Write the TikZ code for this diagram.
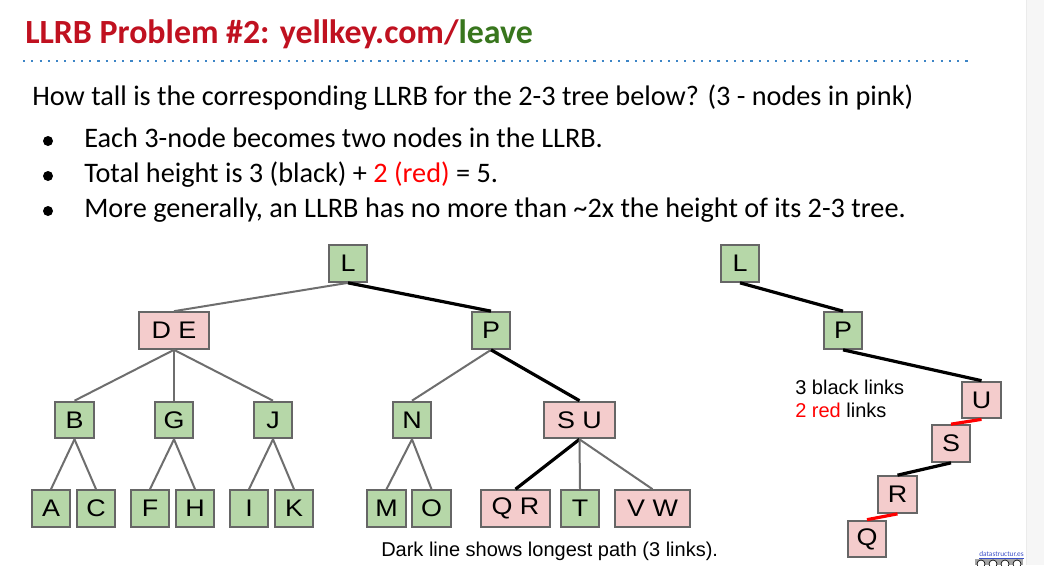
\documentclass[tikz,border=0pt]{standalone}
\usepackage{fontspec}
\setmainfont{Carlito}
\newfontfamily\arialf{Liberation Sans}
\newfontfamily\nodefont{Liberation Sans}[FakeStretch=1.12]
\definecolor{titlered}{RGB}{192,17,32}
\definecolor{titlegreen}{RGB}{56,118,29}
\definecolor{dotblue}{RGB}{61,133,198}
\definecolor{nodegreen}{RGB}{182,215,168}
\definecolor{nodepink}{RGB}{244,204,204}
\definecolor{nodeborder}{RGB}{102,102,102}
\definecolor{edgegray}{RGB}{110,110,110}
\definecolor{linkred}{RGB}{255,0,0}
\definecolor{sidegray}{RGB}{246,246,246}
\definecolor{linkblue}{RGB}{60,80,200}
\begin{document}
\begin{tikzpicture}[x=0.75pt,y=-0.75pt,
  treebox/.style={draw=nodeborder, line width=1.5pt, inner sep=0pt,
    minimum height=27.5pt, font=\nodefont\fontsize{18}{20}\selectfont},
  gnode/.style={treebox, fill=nodegreen, minimum width=29pt},
  pnode/.style={treebox, fill=nodepink, minimum width=29pt},
  pwide/.style={treebox, fill=nodepink, minimum width=52.5pt},
  thin/.style={draw=edgegray, line width=1.5pt},
  thick/.style={draw=black, line width=2.4pt},
  redlink/.style={draw=linkred, line width=2.4pt},
  bodytext/.style={anchor=base west, inner sep=0pt, font=\fontsize{21.2}{25}\selectfont},
  smalltext/.style={anchor=base west, inner sep=0pt, font=\arialf\fontsize{15}{17}\selectfont},
  bulletdot/.style={circle, fill=black, inner sep=0pt, minimum size=7.5pt}
]
\useasboundingbox (0,0) rectangle (1044,565);
\fill[white] (0,0) rectangle (1026,565);
\fill[sidegray] (1026,0) rectangle (1044,565);
\draw[black!8, line width=0.75pt] (1026,0) -- (1026,565);

% title
\node[anchor=base west, inner sep=0pt, font=\bfseries\fontsize{25.4}{29}\selectfont] (title) at (25,43)
  {\textcolor{titlered}{LLRB Problem \#2: yellkey.com/}\textcolor{titlegreen}{leave}};
\coordinate (dl) at (23,61);
\coordinate (dr) at (968,61);
\draw[dotblue, line width=1.8pt, dash pattern=on 1.6pt off 4.6pt] (dl) -- (dr);

% body
\node[bodytext] (q) at (32,105) {How tall is the corresponding LLRB for the 2-3 tree below? (3 - nodes in pink)};
\node[bulletdot] (b1) at (48,141) {};
\node[bulletdot] (b2) at (48,176) {};
\node[bulletdot] (b3) at (48,211) {};
\node[bodytext] (t1) at (84,147) {Each 3-node becomes two nodes in the LLRB.};
\node[bodytext] (t2) at (84,182) {Total height is 3 (black) + \textcolor{linkred}{2 (red)} = 5.};
\node[bodytext] (t3) at (84,217) {More generally, an LLRB has no more than \textasciitilde2x the height of its 2-3 tree.};

% 2-3 tree
\node[gnode] (L) at (348,263.5) {L};
\node[pwide] (DE) at (174,330.5) {D E};
\node[gnode] (P) at (491,330.5) {P};
\node[gnode] (B) at (74.5,420) {B};
\node[gnode] (G) at (174,420) {G};
\node[gnode] (J) at (273,420) {J};
\node[gnode] (N) at (412,420) {N};
\node[treebox, fill=nodepink, minimum width=53pt] (SU) at (579.5,420) {S U};
\node[gnode] (A) at (51,508.5) {A};
\node[gnode] (C) at (96,508.5) {C};
\node[gnode] (F) at (150,508.5) {F};
\node[gnode] (H) at (195,508.5) {H};
\node[gnode] (I) at (249,508.5) {I};
\node[gnode] (K) at (294,508.5) {K};
\node[gnode] (M) at (386.5,508.5) {M};
\node[gnode] (O) at (431.5,508.5) {O};
\node[treebox, fill=nodepink, minimum width=51.5pt] (QR) at (515.5,508.5) {Q R};
\node[gnode] (T) at (580,508.5) {T};
\node[treebox, fill=nodepink, minimum width=56pt] (VW) at (652.5,508.5) {V W};

\draw[thin] (L.south) -- (DE.north);
\draw[thick] (L.south) -- (P.north);
\draw[thin] (DE.south) -- (B.north);
\draw[thin] (DE.south) -- (G.north);
\draw[thin] (DE.south) -- (J.north);
\draw[thin] (P.south) -- (N.north);
\draw[thick] (P.south) -- (SU.north);
\draw[thin] (B.south) -- (A.north);
\draw[thin] (B.south) -- (C.north);
\draw[thin] (G.south) -- (F.north);
\draw[thin] (G.south) -- (H.north);
\draw[thin] (J.south) -- (I.north);
\draw[thin] (J.south) -- (K.north);
\draw[thin] (N.south) -- (M.north);
\draw[thin] (N.south) -- (O.north);
\draw[thick] (SU.south) -- (QR.north);
\draw[thin] (SU.south) -- (T.north);
\draw[thin] (SU.south) -- (VW.north);

\node[smalltext] (cap) at (381,556) {Dark line shows longest path (3 links).};

% LLRB
\node[gnode] (L2) at (740,263.5) {L};
\node[gnode] (P2) at (843,330.5) {P};
\node[pnode] (U2) at (981.5,400) {U};
\node[pnode] (S2) at (951,443.5) {S};
\node[pnode] (R2) at (897.5,494.5) {R};
\node[pnode] (Q2) at (867,539) {Q};
\draw[thick] (L2.south) -- (P2.north);
\draw[thick] (P2.south) -- (U2.north);
\draw[redlink] (U2.south) -- (S2.north);
\draw[thick] (S2.south) -- (R2.north);
\draw[redlink] (R2.south) -- (Q2.north);

\node[smalltext] (bl) at (795,394) {3 black links};
\node[smalltext] (rl) at (795,417) {\textcolor{linkred}{2 red} links};

% footer
\node[anchor=base east, inner sep=0pt, font=\fontsize{5.5}{6}\selectfont, text=linkblue] (ds) at (1024,556) {\underline{datastructur.es}};
\fill[gray!70] (975,559) rectangle (1023,565);
\foreach \cx/\nm in {981/c1,993/c2,1005/c3,1017/c4}{
  \node[circle, draw=black, fill=white, line width=0.5pt, inner sep=0pt, minimum size=6pt] (\nm) at (\cx,564) {};
}
\end{tikzpicture}
\end{document}
